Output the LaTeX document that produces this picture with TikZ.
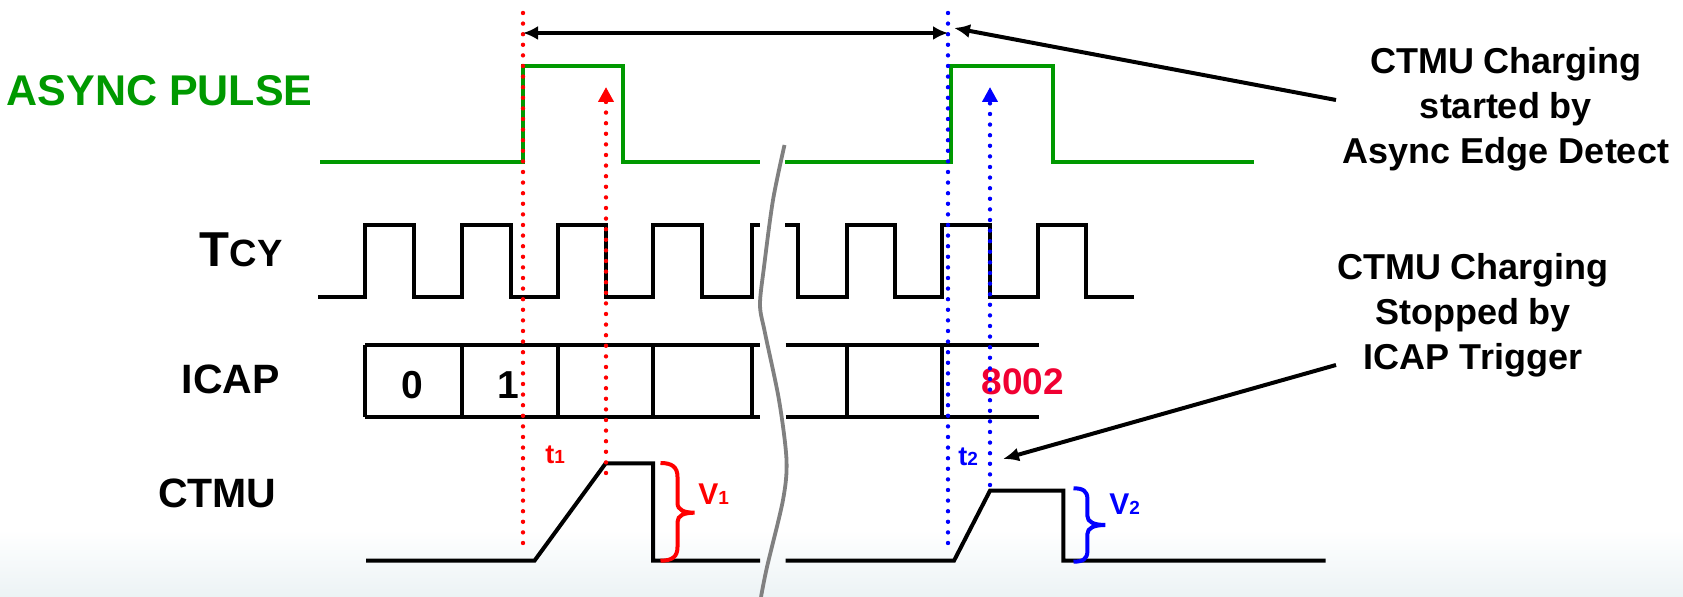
\documentclass[tikz,border=0pt]{standalone}
\usepackage{fontspec}
\setmainfont{Liberation Sans}
\usetikzlibrary{arrows.meta,calc}
\definecolor{pgreen}{RGB}{0,153,0}
\definecolor{pred}{RGB}{255,0,0}
\definecolor{pblue}{RGB}{0,0,255}
\definecolor{pcode}{RGB}{240,0,50}
\definecolor{pgray}{RGB}{128,128,128}
\definecolor{pbot}{RGB}{236,243,245}
\begin{document}
\begin{tikzpicture}[x=0.5pt,y=-0.5pt,
  sig/.style={line width=2pt, line join=miter},
  dotline/.style={line width=2.2pt, dash pattern=on 0pt off 5.3pt, line cap=round},
  lbl/.style={inner sep=0pt, font=\bfseries},
  dimarrow/.style={line width=1.7pt, {Latex[length=7.5pt,width=7pt]}-{Latex[length=7.5pt,width=7pt]}},
  callout/.style={line width=2pt, -{Latex[length=8pt,width=7pt]}},
  uptip/.style={-{Triangle[length=7.5pt,width=7.5pt]}},
  brc/.style={line width=2pt},
  anntext/.style={inner sep=0pt, align=center, font=\fontsize{18}{22.5}\bfseries\selectfont}]
\useasboundingbox (0,0) rectangle (1683,597);
\shade[top color=white, bottom color=pbot] (0,530) rectangle (1683,597);

% ASYNC PULSE
\draw[sig, pgreen] (320,161.7) -- (523,161.7) -- (523,65.7) -- (623,65.7) -- (623,161.7) -- (760,161.7);
\draw[sig, pgreen] (785,161.7) -- (951,161.7) -- (951,65.7) -- (1053,65.7) -- (1053,161.7) -- (1254,161.7);

% TCY
\draw[sig] (318,296.7) -- (365,296.7) -- (365,225) -- (414,225) -- (414,296.7) -- (462,296.7) -- (462,225) -- (511,225) -- (511,296.7) -- (558,296.7) -- (558,225) -- (606,225) -- (606,296.7) -- (653,296.7) -- (653,225) -- (702,225) -- (702,296.7) -- (752,296.7) -- (752,225) -- (760,225);
\draw[sig] (785,225) -- (798,225) -- (798,296.7) -- (847,296.7) -- (847,225) -- (895,225) -- (895,296.7) -- (942,296.7) -- (942,225) -- (990,225) -- (990,296.7) -- (1038,296.7) -- (1038,225) -- (1086,225) -- (1086,296.7) -- (1134,296.7);

% ICAP
\draw[sig] (365,345) -- (760,345) (365,416.7) -- (760,416.7);
\draw[sig] (785.6,345) -- (1039,345) (785.6,416.7) -- (1039,416.7);
\foreach \xx in {365,462,558,653,752,847,942}
  \draw[sig] (\xx,345) -- (\xx,416.7);

% CTMU
\draw[sig] (366,560.7) -- (534.5,560.7) -- (605.7,463.3) -- (653,463.3) -- (653,560.7) -- (760,560.7);
\draw[sig] (785.6,560.7) -- (954,560.7) -- (990,490.7) -- (1063.3,490.7) -- (1063.3,560.7) -- (1325.5,560.7);

% break mark
\draw[line width=1.9pt, pgray] plot[smooth] coordinates {(784.5,145) (773,200) (764,267) (760,305) (765,333) (779,400) (786.5,460) (783,500) (767,567) (761,597)};

% braces
\draw[brc, pred] (660.5,463) .. controls (672,463) and (677.5,467) .. (677.5,477) -- (677.5,503) .. controls (677.5,510) and (684,512.7) .. (694.5,512.7) .. controls (684,512.7) and (677.5,515.5) .. (677.5,522) -- (677.5,547) .. controls (677.5,557) and (672,560.7) .. (660.5,560.7);
\draw[brc, pblue] (1073.5,488.3) .. controls (1083,488.3) and (1087.4,491) .. (1087.4,499) -- (1087.4,516) .. controls (1087.4,522) and (1094,525) .. (1105.3,525) .. controls (1094,525) and (1087.4,528) .. (1087.4,534) -- (1087.4,551) .. controls (1087.4,559) and (1083,561.7) .. (1073.5,561.7);

% labels
\node[lbl, anchor=east, text=pgreen, font=\fontsize{21.5}{21.5}\bfseries\selectfont] (lasync) at (313,91) {ASYNC PULSE};
\node[lbl, anchor=base east] (ltcy) at (283,266.7) {\fontsize{24.5}{24.5}\selectfont T\fontsize{19}{19}\selectfont CY};
\node[lbl, anchor=base east, font=\fontsize{20.5}{20.5}\bfseries\selectfont] (licap) at (280,394) {ICAP};
\node[lbl, anchor=base east, font=\fontsize{20.5}{20.5}\bfseries\selectfont] (lctmu) at (277,507.5) {CTMU};
\node[lbl, font=\fontsize{19.5}{19.5}\bfseries\selectfont] (c0) at (412,385) {0};
\node[lbl, font=\fontsize{19.5}{19.5}\bfseries\selectfont] (c1) at (508,385) {1};
\node[lbl, text=pcode, font=\fontsize{18.5}{18.5}\bfseries\selectfont] (c8002) at (1023,382) {8002};
\node[lbl, anchor=base west, text=pred, font=\fontsize{13.5}{13.5}\bfseries\selectfont] (t1) at (545,464) {t{\fontsize{9.5}{9.5}\selectfont 1}};
\node[lbl, anchor=base west, text=pblue, font=\fontsize{13.5}{13.5}\bfseries\selectfont] (t2) at (958,466) {t{\fontsize{9.5}{9.5}\selectfont 2}};
\node[lbl, anchor=base west, text=pred, font=\fontsize{15}{15}\bfseries\selectfont] (v1) at (698,505) {V{\fontsize{9.5}{9.5}\selectfont 1}};
\node[lbl, anchor=base west, text=pblue, font=\fontsize{15}{15}\bfseries\selectfont] (v2) at (1109,515) {V{\fontsize{9.5}{9.5}\selectfont 2}};

\node[anntext] (ann1) at (1506,109) {CTMU Charging\\started by\\Async Edge Detect};
\node[anntext] (ann2) at (1473,315) {CTMU Charging\\Stopped by\\ICAP Trigger};

% dotted markers
\coordinate (r1t) at (523,13); \coordinate (r1b) at (523,548);
\coordinate (r2b) at (606,473); \coordinate (r2t) at (606,87);
\coordinate (b1t) at (948,13); \coordinate (b1b) at (948,548);
\coordinate (b2b) at (990,485); \coordinate (b2t) at (990,87);
\draw[dotline, pred] (r1t) -- (r1b);
\draw[dotline, pred, uptip] (r2b) -- (r2t);
\draw[dotline, pblue] (b1t) -- (b1b);
\draw[dotline, pblue, uptip] (b2b) -- (b2t);

% dimension arrow
\coordinate (dA) at (523,33); \coordinate (dB) at (948,33);
\draw[dimarrow] (dA) -- (dB);

% callouts
\coordinate (c1s) at (1336,100); \coordinate (c1tip) at (954,28);
\coordinate (c2s) at (1336,365); \coordinate (c2tip) at (1003,459);
\draw[callout] (c1s) -- (c1tip);
\draw[callout] (c2s) -- (c2tip);
\end{tikzpicture}
\end{document}
